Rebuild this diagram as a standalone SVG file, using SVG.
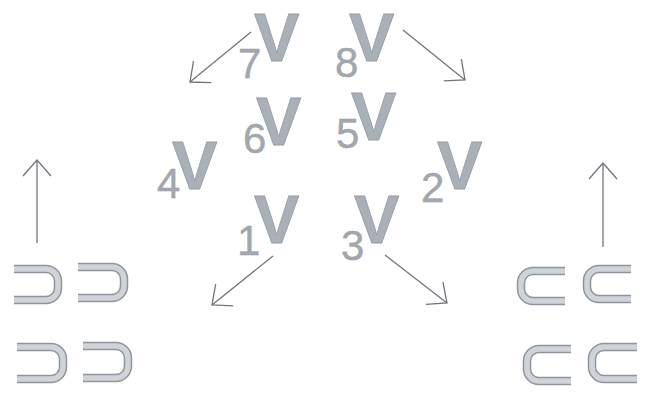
<svg xmlns="http://www.w3.org/2000/svg" width="651" height="394" viewBox="0 0 651 394">
<style>
text{font-family:"Liberation Sans",Arial,sans-serif}
.v{font-weight:bold;font-size:68px;fill:#aab0b7;stroke:#979da4;stroke-width:0.8}
.d{font-size:42px;fill:#a3a8ae;stroke:#9aa0a6;stroke-width:0.4}
.a{fill:none;stroke:#6f757b;stroke-width:1.3;marker-end:url(#ah)}
.uo{fill:none;stroke:#8f959c;stroke-width:8.5}
.ui{fill:none;stroke:#d0d4d8;stroke-width:5.5}
</style>
<defs>
<marker id="ah" markerUnits="userSpaceOnUse" markerWidth="40" markerHeight="40" refX="0" refY="0" viewBox="-20 -20 40 40" orient="auto" overflow="visible">
<path d="M-16,-14 L0,0 L-16,14" fill="none" stroke="#6f757b" stroke-width="1.3"/>
</marker>
</defs>
<rect width="651" height="394" fill="#ffffff"/>
<g id="connectors">
<line class="a" x1="251" y1="32" x2="190" y2="82"/>
<line class="a" x1="403" y1="30" x2="465" y2="80"/>
<line class="a" x1="273" y1="256" x2="212" y2="305"/>
<line class="a" x1="385" y1="255" x2="447" y2="303"/>
<line class="a" x1="37" y1="243" x2="37" y2="160"/>
<line class="a" x1="603" y1="247" x2="603" y2="163"/>
</g>
<g id="v7"><text><tspan class="d" x="238" y="78">7</tspan><tspan class="v" x="254" y="61">V</tspan></text></g>
<g id="v8"><text><tspan class="d" x="335" y="77">8</tspan><tspan class="v" x="349" y="61">V</tspan></text></g>
<g id="v6"><text><tspan class="d" x="243" y="153">6</tspan><tspan class="v" x="256" y="145">V</tspan></text></g>
<g id="v5"><text><tspan class="d" x="336" y="148">5</tspan><tspan class="v" x="351" y="140">V</tspan></text></g>
<g id="v4"><text><tspan class="d" x="157" y="198">4</tspan><tspan class="v" x="172" y="189">V</tspan></text></g>
<g id="v2"><text><tspan class="d" x="421" y="202">2</tspan><tspan class="v" x="437" y="189">V</tspan></text></g>
<g id="v1"><text><tspan class="d" x="237" y="255">1</tspan><tspan class="v" x="254" y="243">V</tspan></text></g>
<g id="v3"><text><tspan class="d" x="341" y="260">3</tspan><tspan class="v" x="354" y="243">V</tspan></text></g>
<g id="left-shapes">
<g id="l1"><path class="uo" d="M14,269 H46 A12,12 0 0 1 58,281 V288 A12,12 0 0 1 46,300 H14"/><path class="ui" d="M14,269 H46 A12,12 0 0 1 58,281 V288 A12,12 0 0 1 46,300 H14"/></g>
<g id="l2"><path class="uo" d="M78,267 H112 A12,12 0 0 1 124,279 V286 A12,12 0 0 1 112,298 H78"/><path class="ui" d="M78,267 H112 A12,12 0 0 1 124,279 V286 A12,12 0 0 1 112,298 H78"/></g>
<g id="l3"><path class="uo" d="M17,347 H51 A12,12 0 0 1 63,359 V367 A12,12 0 0 1 51,379 H17"/><path class="ui" d="M17,347 H51 A12,12 0 0 1 63,359 V367 A12,12 0 0 1 51,379 H17"/></g>
<g id="l4"><path class="uo" d="M83,346 H116 A12,12 0 0 1 128,358 V366 A12,12 0 0 1 116,378 H83"/><path class="ui" d="M83,346 H116 A12,12 0 0 1 128,358 V366 A12,12 0 0 1 116,378 H83"/></g>
</g>
<g id="right-shapes">
<g id="r1"><path class="uo" d="M565,271 H533 A12,12 0 0 0 521,283 V289 A12,12 0 0 0 533,301 H565"/><path class="ui" d="M565,271 H533 A12,12 0 0 0 521,283 V289 A12,12 0 0 0 533,301 H565"/></g>
<g id="r2"><path class="uo" d="M631,269 H599 A12,12 0 0 0 587,281 V287 A12,12 0 0 0 599,299 H631"/><path class="ui" d="M631,269 H599 A12,12 0 0 0 587,281 V287 A12,12 0 0 0 599,299 H631"/></g>
<g id="r3"><path class="uo" d="M571,349 H539 A12,12 0 0 0 527,361 V369 A12,12 0 0 0 539,381 H571"/><path class="ui" d="M571,349 H539 A12,12 0 0 0 527,361 V369 A12,12 0 0 0 539,381 H571"/></g>
<g id="r4"><path class="uo" d="M637,347 H604 A12,12 0 0 0 592,359 V367 A12,12 0 0 0 604,379 H637"/><path class="ui" d="M637,347 H604 A12,12 0 0 0 592,359 V367 A12,12 0 0 0 604,379 H637"/></g>
</g>
</svg>
